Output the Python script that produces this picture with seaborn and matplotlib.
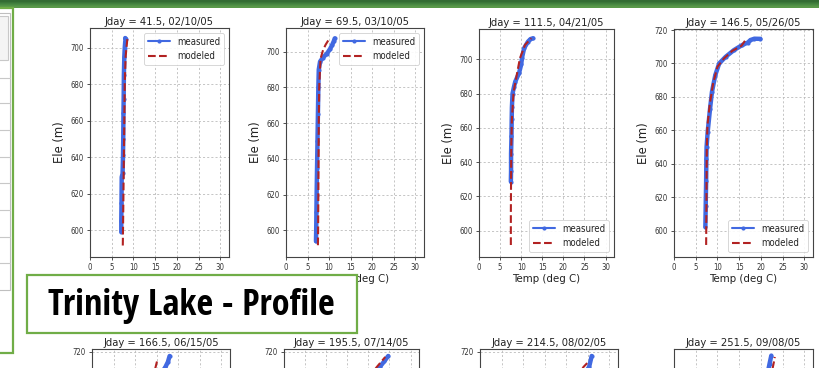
import matplotlib
matplotlib.use("Agg")
import matplotlib.pyplot as plt
import seaborn as sns
import numpy as np
from matplotlib.patches import Rectangle
from matplotlib.ticker import MultipleLocator
from matplotlib import font_manager

# ---------------- data ----------------
titles = ["Jday = 41.5, 02/10/05", "Jday = 69.5, 03/10/05",
          "Jday = 111.5, 04/21/05", "Jday = 146.5, 05/26/05",
          "Jday = 166.5, 06/15/05", "Jday = 195.5, 07/14/05",
          "Jday = 214.5, 08/02/05", "Jday = 251.5, 09/08/05"]

meas_T1 = [7.2, 7.2, 7.25, 7.3, 7.5, 7.6, 7.65, 7.7, 7.75, 7.8, 7.9, 8.0, 8.1, 8.2, 8.1]
meas_E1 = [599, 605, 615, 629, 631, 641, 650, 664, 672, 685, 695, 700, 703, 705, 705.3]
mod_T1 = [7.55, 7.6, 7.7, 7.8, 7.9, 8.0, 8.2, 8.4, 8.6]
mod_E1 = [591.5, 600, 620, 640, 660, 680, 695, 700, 704.8]

meas_T2 = [6.95, 7.0, 7.05, 7.1, 7.2, 7.3, 7.4, 7.5, 7.6, 7.9, 8.5, 9.5, 10.2, 10.7, 11.1, 11.3]
meas_E2 = [593.8, 600, 610, 620, 635, 650, 665, 680, 690, 694.5, 696.5, 699, 701.5, 703.8, 706, 707.5]
mod_T2 = [7.4, 7.45, 7.5, 7.55, 7.6, 7.7, 8.0, 8.6, 9.2, 10.1]
mod_E2 = [591.6, 600, 620, 640, 660, 680, 696, 701, 704, 707.5]

meas_T3 = [7.55, 7.6, 7.6, 7.7, 7.75, 7.8, 7.95, 8.3, 8.6, 9.5, 10.0, 10.2, 10.7, 11.6, 12.2, 12.8]
meas_E3 = [628.6, 635, 645, 655, 665, 672, 680, 684, 687, 692, 697, 701, 706.5, 710.3, 711.8, 712.3]
mod_T3 = [7.55, 7.55, 7.6, 7.65, 7.8, 8.2, 8.96, 9.7, 10.9, 12.4]
mod_E3 = [591.6, 610, 630, 650, 665, 681, 691, 700.6, 708.4, 712.3]

meas_T4 = [7.22, 7.3, 7.4, 7.45, 7.5, 7.75, 8.3, 8.74, 9.5, 10.4, 11.9, 13.8, 15.7, 17.0, 17.6, 18.5, 19.9]
meas_E4 = [602.4, 615, 630, 643, 650, 659, 673, 683, 693, 700, 704, 708, 711, 712.5, 714, 714.8, 714.7]
mod_T4 = [7.4, 7.45, 7.5, 7.56, 7.7, 8.2, 9.0, 10.0, 11.5, 13.4, 15.5, 16.5]
mod_E4 = [591.5, 610, 630, 650, 663, 675, 688, 698, 703, 707.5, 710.5, 714.1]

meas_T5 = [7.3, 7.4, 7.6, 8.0, 9.0, 10.5, 12.5, 14.5, 16.0, 17.0, 17.6, 18.0]
meas_E5 = [600, 620, 640, 660, 675, 688, 697, 703, 707, 710.8, 714, 717.6]
mod_T5 = [7.4, 7.5, 7.7, 8.2, 9.3, 11.0, 12.8, 14.3, 14.9, 15.2]
mod_E5 = [591, 620, 640, 660, 675, 688, 698, 706, 712.6, 715.6]

meas_T6 = [7.5, 7.6, 7.9, 8.5, 10.0, 12.5, 15.5, 18.5, 21.0, 22.7, 23.8, 24.7]
meas_E6 = [598, 620, 640, 658, 672, 684, 693, 700, 706, 711, 714.5, 717.6]
mod_T6 = [7.5, 7.7, 8.0, 8.8, 10.5, 13.0, 16.0, 19.0, 22.0, 24.0]
mod_E6 = [590, 620, 640, 658, 672, 684, 693, 701, 711, 717]

meas_T7 = [7.6, 7.8, 8.2, 9.0, 11.0, 14.0, 17.5, 21.0, 24.0, 25.3, 25.9]
meas_E7 = [597, 620, 640, 656, 670, 682, 691, 699, 706, 711, 717.6]
mod_T7 = [7.6, 7.8, 8.3, 9.3, 11.5, 14.5, 18.0, 21.5, 24.0, 25.1]
mod_E7 = [590, 620, 640, 656, 670, 682, 691, 700, 711, 714]

meas_T8 = [7.8, 8.0, 8.5, 9.5, 11.5, 14.5, 18.0, 20.5, 21.6, 22.0, 22.4]
meas_E8 = [596, 620, 640, 654, 666, 677, 687, 697, 705, 710, 714.8]
mod_T8 = [7.8, 8.1, 8.7, 9.8, 12.0, 15.0, 18.5, 21.0, 22.6, 23.0, 23.2]
mod_E8 = [589, 620, 640, 654, 666, 677, 687, 697, 706, 711, 714]

ylims = [(585.2, 710.8), (585.0, 713.3), (584.6, 717.7), (584.3, 720.6),
         (584.0, 721.8), (584.0, 721.8), (584.0, 721.8), (583.0, 718.7)]
legend_locs = ["upper right", "upper right", "lower right", "lower right",
               "lower right", "lower right", "lower right", "lower right"]

meas_T = [meas_T1, meas_T2, meas_T3, meas_T4, meas_T5, meas_T6, meas_T7, meas_T8]
meas_E = [meas_E1, meas_E2, meas_E3, meas_E4, meas_E5, meas_E6, meas_E7, meas_E8]
mod_T = [mod_T1, mod_T2, mod_T3, mod_T4, mod_T5, mod_T6, mod_T7, mod_T8]
mod_E = [mod_E1, mod_E2, mod_E3, mod_E4, mod_E5, mod_E6, mod_E7, mod_E8]

# ---------------- style ----------------
sns.set_style("ticks")
plt.rcParams["font.family"] = ["DejaVu Sans"]
plt.rcParams["font.stretch"] = "condensed"
plt.rcParams["axes.edgecolor"] = "#444444"
plt.rcParams["axes.linewidth"] = 0.8

W, H = 820, 368
fig = plt.figure(figsize=(W / 100, H / 100), dpi=100)
fig.patch.set_facecolor("white")


def px_rect(l, t, r, b):
    return [l / W, 1 - b / H, (r - l) / W, (b - t) / H]


boxes = [(90, 28, 229, 257), (286, 28, 424, 257), (479, 29, 614, 257), (674, 29, 813, 257),
         (92, 349, 230, 578), (284, 349, 419, 578), (480, 349, 618, 578), (674, 349, 813, 578)]

BLUE = "#4169e1"
RED = "#b22222"

for i in range(8):
    ax = fig.add_axes(px_rect(*boxes[i]))
    sns.lineplot(x=meas_T[i], y=meas_E[i], sort=False, estimator=None, ax=ax,
                 color=BLUE, linewidth=3.2, marker=".", markersize=6,
                 markeredgewidth=0, label="measured")
    sns.lineplot(x=mod_T[i], y=mod_E[i], sort=False, estimator=None, ax=ax,
                 color=RED, linewidth=1.5, linestyle="--", label="modeled")
    ax.set_xlim(0, 32)
    ax.set_ylim(*ylims[i])
    ax.xaxis.set_major_locator(MultipleLocator(5))
    ax.yaxis.set_major_locator(MultipleLocator(20))
    ax.grid(True, color="#bbbbbb", linestyle=(0, (2.5, 2.5)), linewidth=0.6)
    ax.tick_params(labelsize=5.6, length=2.5, width=0.6, pad=2, colors="#333333")
    ax.set_title(titles[i], fontsize=8.0, pad=2.5, color="#222222")
    ax.set_xlabel("Temp (deg C)", fontsize=8.2, labelpad=1.0, color="#222222")
    ax.set_ylabel("Ele (m)", fontsize=9.3, labelpad=3, color="#222222")
    leg = ax.legend(loc=legend_locs[i], fontsize=6.9, borderaxespad=0.5,
                    handlelength=2.3, framealpha=0.9)
    leg.get_frame().set_linewidth(0.6)
    leg.get_lines()[0].set_linewidth(1.5)

# ---------------- slide decorations ----------------
ov = fig.add_axes([0, 0, 1, 1], zorder=20)
ov.set_xlim(0, W)
ov.set_ylim(H, 0)
ov.axis("off")
ov.patch.set_alpha(0)

grad = np.array([[[0.20, 0.42, 0.20]], [[0.27, 0.52, 0.25]], [[0.35, 0.60, 0.29]]])
ov.imshow(grad, extent=[0, W, 8, 0], aspect="auto", interpolation="bilinear")

ov.add_patch(Rectangle((-6, 8), 19.5, 345, facecolor="white", edgecolor="#70ad47", linewidth=1.6))
ov.add_patch(Rectangle((-6, 13), 16, 277, facecolor="white", edgecolor="#bfbfbf", linewidth=0.8))
ov.add_patch(Rectangle((-6, 16), 14, 44, facecolor="#f4f4f4", edgecolor="#c8c8c8", linewidth=0.8))
for yy in [78, 103, 130, 157, 183, 210, 237, 263]:
    ov.plot([-6, 10], [yy, yy], color="#c8c8c8", linewidth=0.8)

ov.add_patch(Rectangle((27, 275), 330, 58, facecolor="white", edgecolor="#70ad47", linewidth=1.6))

avail = {f.name for f in font_manager.fontManager.ttflist}
big_font = next((n for n in ["Open Sans Condensed", "Roboto Condensed", "DejaVu Sans"]
                 if n in avail), "DejaVu Sans")
big = ov.text(191, 315, "Trinity Lake - Profile", ha="center", va="baseline",
              fontsize=24, fontweight="bold", fontstretch="condensed", color="black",
              family=[big_font, "DejaVu Sans"])
fig.canvas.draw()
bw = big.get_window_extent().width
big.set_fontsize(24 * 287.0 / bw)

fig.savefig("out.png", dpi=100, facecolor="white")
